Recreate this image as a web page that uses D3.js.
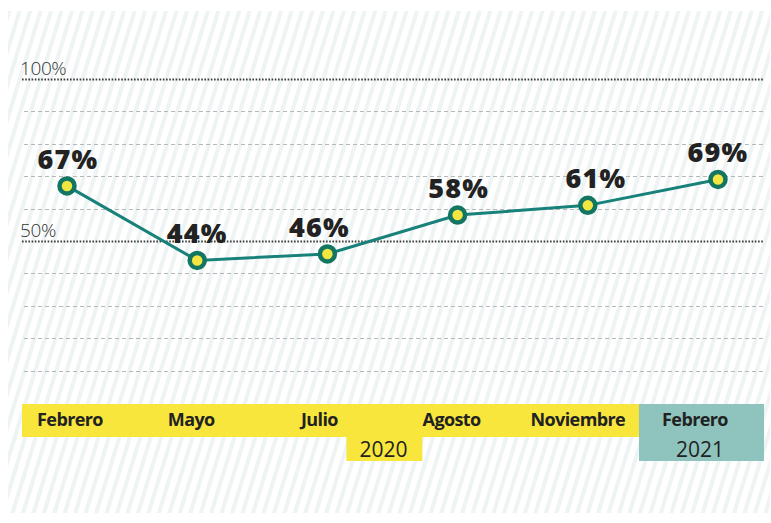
<!DOCTYPE html>
<html>
<head>
<meta charset="utf-8">
<script src="https://cdn.jsdelivr.net/npm/d3@7"></script>
<style>
  html, body { margin: 0; padding: 0; background: #ffffff; }
  svg { display: block; }
</style>
</head>
<body>
<svg id="chart" width="771" height="523"></svg>
<script>
// Months surveyed and share of respondents (%)
const months = ["Febrero", "Mayo", "Julio", "Agosto", "Noviembre", "Febrero"];
const shares = [67, 44, 46, 58, 61, 69];
const yearGroups = [
  { year: "2020", from: 0, to: 4 },
  { year: "2021", from: 5, to: 5 }
];
const gridTicks = [10, 20, 30, 40, 50, 60, 70, 80, 90, 100];
const labelledTicks = [50, 100];

const svg = d3.select("#chart");

// Pale diagonal hatching behind everything
const defs = svg.append("defs");
const pat = defs.append("pattern")
  .attr("id", "hatch")
  .attr("patternUnits", "userSpaceOnUse")
  .attr("width", 10).attr("height", 10)
  .attr("patternTransform", "rotate(17)");
pat.append("rect").attr("width", 10).attr("height", 10).attr("fill", "#ffffff");
pat.append("rect").attr("x", 0).attr("width", 4).attr("height", 10).attr("fill", "#eef3f3");

svg.append("rect").attr("x", 8).attr("y", 11).attr("width", 762).attr("height", 502)
  .attr("fill", "url(#hatch)");

const x = d3.scalePoint().domain(d3.range(months.length)).range([67, 718]);
const y = d3.scaleLinear().domain([0, 100]).range([403, 79]);

// Horizontal gridlines
const grid = svg.append("g");
grid.selectAll("line")
  .data(gridTicks)
  .join("line")
  .attr("x1", d => labelledTicks.includes(d) ? 22 : 24)
  .attr("x2", 764)
  .attr("y1", d => Math.round(y(d)) + 0.5)
  .attr("y2", d => Math.round(y(d)) + 0.5)
  .attr("stroke", d => labelledTicks.includes(d) ? "#3c3c3c" : "#b4b8b8")
  .attr("stroke-width", d => labelledTicks.includes(d) ? 1.8 : 1)
  .attr("stroke-dasharray", d => labelledTicks.includes(d) ? "1.6,1.6" : "4,3");

grid.selectAll("text")
  .data(labelledTicks)
  .join("text")
  .attr("x", 20)
  .attr("y", d => y(d) - 4)
  .attr("font-family", "'Open Sans', sans-serif")
  .attr("font-size", 19)
  .attr("font-weight", 300)
  .attr("fill", "#333")
  .attr("letter-spacing", -0.4)
  .text(d => d + "%");

// Month band along the baseline
const bandTop = 404, bandH = 33;
const firstYear = yearGroups[0], lastYear = yearGroups[1];
const splitX = x(lastYear.from) - 79;

svg.append("rect")
  .attr("x", 22).attr("y", bandTop)
  .attr("width", splitX - 22).attr("height", bandH)
  .attr("fill", "#f8e63c");

svg.append("rect")
  .attr("x", splitX).attr("y", bandTop)
  .attr("width", 764 - splitX).attr("height", 57)
  .attr("fill", "#8fc4be");

// Year tag under the 2020 span
const midFirst = (x(firstYear.from) + x(firstYear.to)) / 2;
svg.append("rect")
  .attr("x", midFirst + 19).attr("y", bandTop + bandH)
  .attr("width", 76).attr("height", 24)
  .attr("fill", "#f8e63c");

svg.selectAll("text.year")
  .data(yearGroups)
  .join("text")
  .attr("class", "year")
  .attr("x", d => d.from === d.to ? x(d.from) - 18 : (x(d.from) + x(d.to)) / 2 + 56)
  .attr("y", bandTop + bandH + 20)
  .attr("text-anchor", "middle")
  .attr("font-family", "'Open Sans', sans-serif")
  .attr("font-size", 21)
  .attr("fill", "#222")
  .text(d => d.year);

const monthOffsets = [3, -6, -8, -6, -10, -23];
svg.selectAll("text.month")
  .data(months)
  .join("text")
  .attr("class", "month")
  .attr("x", (d, i) => x(i) + monthOffsets[i])
  .attr("y", bandTop + 22)
  .attr("text-anchor", "middle")
  .attr("font-family", "'Open Sans', sans-serif")
  .attr("font-size", 18)
  .attr("font-weight", 700)
  .attr("letter-spacing", -0.6)
  .attr("fill", "#222")
  .text(d => d);

// Trend line
const line = d3.line()
  .x((d, i) => x(i))
  .y(d => y(d));

svg.append("path")
  .datum(shares)
  .attr("d", line)
  .attr("fill", "none")
  .attr("stroke", "#17817a")
  .attr("stroke-width", 3);

// Markers
svg.selectAll("circle.pt")
  .data(shares)
  .join("circle")
  .attr("class", "pt")
  .attr("cx", (d, i) => x(i))
  .attr("cy", d => y(d))
  .attr("r", 7.5)
  .attr("fill", "#f4e640")
  .attr("stroke", "#127663")
  .attr("stroke-width", 4.5);

// Value labels
const labelDx = [1, 0, -8, 1, 8, 0];
svg.selectAll("text.val")
  .data(shares)
  .join("text")
  .attr("class", "val")
  .attr("x", (d, i) => x(i) + labelDx[i])
  .attr("y", d => y(d) - 17)
  .attr("text-anchor", "middle")
  .attr("font-family", "'Open Sans', sans-serif")
  .attr("font-size", 27)
  .attr("font-weight", 800)
  .attr("letter-spacing", 1.2)
  .attr("fill", "#222")
  .text(d => d + "%");
</script>
</body>
</html>
